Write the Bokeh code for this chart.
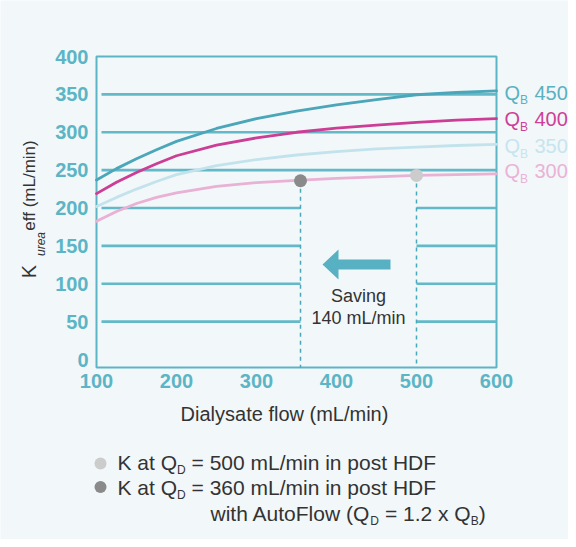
import math
from bokeh.plotting import figure
from bokeh.models import Label, FixedTicker, Range1d
from bokeh.embed import file_html
from bokeh.resources import INLINE

# ---------------- data ----------------
qd = [100, 125, 150, 175, 200, 250, 300, 350, 400, 450, 500, 550, 600]
k_qb450 = [237, 252, 265, 277, 288, 305, 318, 328, 336, 343, 349.5, 352.5, 354.5]
k_qb400 = [219, 234, 247, 258.5, 269, 283, 292.5, 300, 305.5, 309.5, 313, 316, 318]
k_qb350 = [202, 214, 225, 235, 244, 256, 264, 270, 274.5, 278, 280.5, 282.5, 284]
k_qb300 = [182.5, 195.5, 206, 214, 220, 228.5, 233.5, 236.5, 239, 241, 243, 244, 245]
series_names = ["450", "400", "350", "300"]

point_x = [355, 500]           # AutoFlow point, standard point
point_y = [236, 243]
grid_y = [50, 100, 150, 200, 250, 300, 350]
x_ticks = [100, 200, 300, 400, 500, 600]
y_ticks = [0, 50, 100, 150, 200, 250, 300, 350, 400]

# ---------------- style ----------------
BG = "#f2f7fa"
TEAL = "#5cb5c5"
GRID = "#63b9c8"
DASH = "#4aa8bb"
TXT = "#333333"
LINE_COLORS = ["#4aa6b8", "#cc3d96", "#c3e3ec", "#e9b1d4"]
LABEL_COLORS = ["#5ab1c1", "#cf3f98", "#c6e5ee", "#eab3d6"]
FONT = "Liberation Sans"

W, H = 568, 539
X0, X1 = 100, 600          # plot box, data units
Y0, Y1 = -10.5, 400
FL, FT, FW, FH = 96, 56, 400, 311   # plot box in canvas px (left, top, width, height)
SHIFT = 0.35                # compensation of label baseline placement (em)


def px_x(px):
    return X0 + (px - FL) * (X1 - X0) / FW


def px_y(py):
    return Y1 - (py - FT) * (Y1 - Y0) / FH


ARIAL = {' ': 278, 'A': 667, 'B': 667, 'D': 722, 'F': 611, 'H': 722, 'K': 667, 'L': 556,
         'Q': 778, 'a': 556, 'e': 556, 'f': 278, 'h': 556, 'i': 222, 'l': 222, 'm': 833,
         'n': 556, 'o': 556, 'p': 556, 's': 500, 't': 278, 'u': 556, 'w': 722, 'x': 500,
         '(': 333, ')': 333, '/': 278, '=': 584, '.': 278, 'r': 333}


def text_w(s, size):
    return sum(ARIAL.get(c, 556) for c in s) * size / 1000.0


# the frame spans the whole canvas; axes are pinned to the plot box with fixed_location
p = figure(width=W, height=H,
           x_range=Range1d(px_x(0), px_x(W)), y_range=Range1d(px_y(H), px_y(0)),
           output_backend="svg", toolbar_location=None,
           min_border_left=0, min_border_top=0, min_border_right=0, min_border_bottom=0,
           background_fill_color=BG, border_fill_color=BG)
p.grid.visible = False
p.outline_line_color = None

for ax in (p.xaxis[0], p.yaxis[0]):
    ax.axis_line_color = None
    ax.major_tick_line_color = None
    ax.minor_tick_line_color = None
    ax.major_tick_out = 0
    ax.major_tick_in = 0
    ax.major_label_text_font = FONT
    ax.major_label_text_font_size = "20px"
    ax.major_label_text_font_style = "bold"
    ax.major_label_text_color = TEAL

p.xaxis.fixed_location = Y0
p.yaxis.fixed_location = X0
p.xaxis.ticker = FixedTicker(ticks=x_ticks)
p.yaxis.ticker = FixedTicker(ticks=y_ticks)
p.xaxis.major_label_standoff = 6
p.yaxis.major_label_standoff = 8
p.xaxis.axis_label = "Dialysate flow (mL/min)"
p.xaxis.axis_label_text_font = FONT
p.xaxis.axis_label_text_font_size = "20px"
p.xaxis.axis_label_text_font_style = "normal"
p.xaxis.axis_label_text_color = TXT
p.xaxis.axis_label_standoff = 12

# plot box
p.quad(left=[X0], right=[X1], bottom=[Y0], top=[Y1], fill_color=None,
       line_color=TEAL, line_width=2)

# gridlines, with a gap between the two dashed markers for low values
gx0, gx1, gy = [], [], []
for g in grid_y:
    if g <= 200:
        gx0 += [px_x(FL + 5), point_x[1]]
        gx1 += [point_x[0], X1]
        gy += [g, g]
    else:
        gx0.append(px_x(FL + 5))
        gx1.append(X1)
        gy.append(g)
p.segment(x0=gx0, y0=gy, x1=gx1, y1=gy, line_color=GRID, line_width=2.6)

# dashed verticals
p.segment(x0=point_x, y0=point_y, x1=point_x, y1=[Y0, Y0], line_color=DASH,
          line_width=1.5, line_dash="4 4")

# curves
for ys, col in zip([k_qb450, k_qb400, k_qb350, k_qb300], LINE_COLORS):
    p.line(qd, ys, line_color=col, line_width=2.8, line_join="round", line_cap="round")

# points
p.scatter(point_x, point_y, size=13, fill_color=["#8a8a8a", "#cccccc"],
          line_color=None)

# arrow (annotation)
tip_x, tail_x, ay = px_x(322), px_x(390), px_y(264)
head_len = 16 * (X1 - X0) / FW
head_half = 15 * (Y1 - Y0) / FH
shaft_half = 5 * (Y1 - Y0) / FH
p.patch([tip_x, tip_x + head_len, tip_x + head_len, tail_x, tail_x, tip_x + head_len, tip_x + head_len],
        [ay, ay + head_half, ay + shaft_half, ay + shaft_half, ay - shaft_half, ay - shaft_half, ay - head_half],
        fill_color="#57b1c2", line_color=None)


def seg_label(px, py, text, size, color, style="normal", align="left"):
    """horizontal text; (px, py) = start of baseline in canvas px"""
    p.add_layout(Label(x=px_x(px), y=px_y(py - SHIFT * size), text=text,
                       text_align=align, text_baseline="alphabetic", text_font=FONT,
                       text_font_size=f"{size}px", text_font_style=style,
                       text_color=color))


def vert_label(bx, cy, text, size, color, style="normal"):
    """text rotated 90deg; bx = baseline x, cy = centre along the text, canvas px"""
    p.add_layout(Label(x=px_x(bx - SHIFT * size), y=px_y(cy), text=text,
                       text_align="center", text_baseline="alphabetic", text_font=FONT,
                       text_font_size=f"{size}px", text_font_style=style,
                       text_color=color, angle=math.pi / 2))


seg_label(358, 302, "Saving", 18, TXT, align="center")
seg_label(358, 323.5, "140 mL/min", 18, TXT, align="center")

# right-hand series labels
label_base = [99, 125.5, 152.5, 177.5]
for name, col, base in zip(series_names, LABEL_COLORS, label_base):
    seg_label(504, base, "Q", 20, col)
    seg_label(504 + text_w("Q", 20), base + 5, "B", 12, col)
    seg_label(534, base, name, 20, col)

# rotated y-axis title: K_urea eff (mL/min)
vert_label(35, 271, "K", 20, TXT)
vert_label(45, 243.5, "urea", 12, TXT, style="italic")
vert_label(35, 185, "eff (mL/min)", 17, TXT)

# bottom key
marker_colors = ["#cccccc", "#8a8a8a"]
p.scatter([px_x(100), px_x(100)], [px_y(463), px_y(486.5)], size=12,
          fill_color=marker_colors, line_color=None)

key_lines = [
    (117, 469, [("K at Q", 0), ("D", 1), (" = 500 mL/min in post HDF", 0)]),
    (117, 494, [("K at Q", 0), ("D", 1), (" = 360 mL/min in post HDF", 0)]),
    (210, 520, [("with AutoFlow (Q", 0), ("D", 1), (" = 1.2 x Q", 0), ("B", 1), (")", 0)]),
]
for x_start, base, parts in key_lines:
    cur = x_start
    for txt, sub in parts:
        size = 12 if sub else 21
        stripped = txt.lstrip(" ")
        cur += text_w(txt[:len(txt) - len(stripped)], size)
        seg_label(cur, base + (4.5 if sub else 0), stripped, size, TXT)
        cur += text_w(stripped, size)

open("out.html", "w").write(file_html(p, INLINE))
